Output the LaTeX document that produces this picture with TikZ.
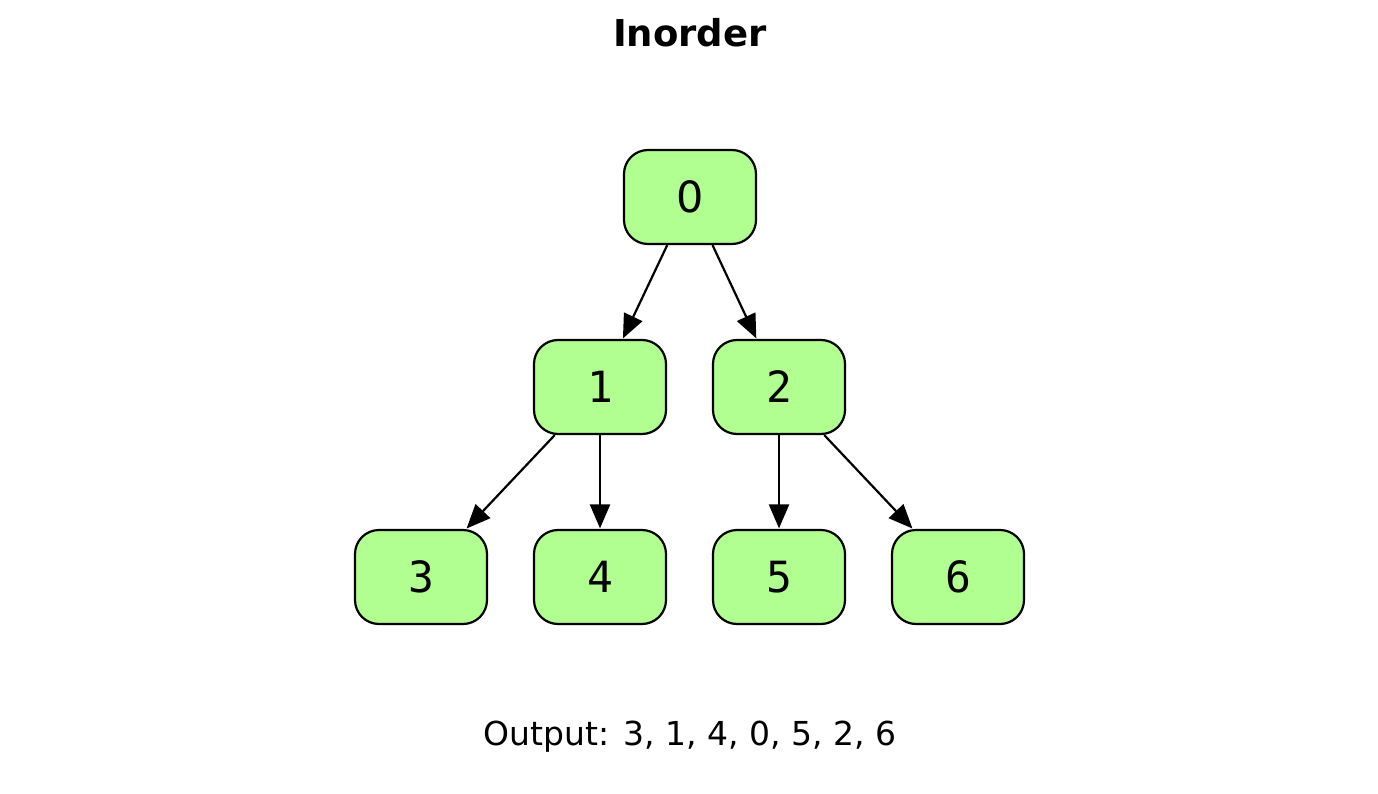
\documentclass[tikz,border=0pt]{standalone}
\usepackage{fontspec}
\setmainfont{DejaVu Sans}
\newfontfamily\nodefont{DejaVu Sans Mono}
\usetikzlibrary{arrows.meta}
\definecolor{nodegreen}{HTML}{B0FF90}
\begin{document}
\begin{tikzpicture}[x=1pt,y=-1pt,
  treenode/.style={draw=black, line width=2.2pt, fill=nodegreen, rounded corners=24pt,
    minimum width=132pt, minimum height=94pt, inner sep=0pt,
    font=\nodefont\fontsize{43}{50}\selectfont},
  edge/.style={draw=black, line width=2.2pt, -{Triangle[length=24pt,width=20pt]}, shorten >=0.5pt}]
\useasboundingbox (0,0) rectangle (1378,794);
\node[font=\bfseries\fontsize{37}{44}\selectfont] (title) at (690,33) {Inorder};
\node[treenode, font=\fontsize{43}{50}\selectfont] (n0) at (690,197) {0};
\node[treenode] (n1) at (600,387) {1};
\node[treenode] (n2) at (779,387) {2};
\node[treenode] (n3) at (421,577) {3};
\node[treenode] (n4) at (600,577) {4};
\node[treenode] (n5) at (779,577) {5};
\node[treenode] (n6) at (958,577) {6};
\draw[edge] (n0) -- (n1);
\draw[edge] (n0) -- (n2);
\draw[edge] (n1) -- (n3);
\draw[edge] (n1) -- (n4);
\draw[edge] (n2) -- (n5);
\draw[edge] (n2) -- (n6);
\node[font=\fontsize{33}{40}\selectfont] (out) at (690,737) {Output: 3, 1, 4, 0, 5, 2, 6};
\end{tikzpicture}
\end{document}
